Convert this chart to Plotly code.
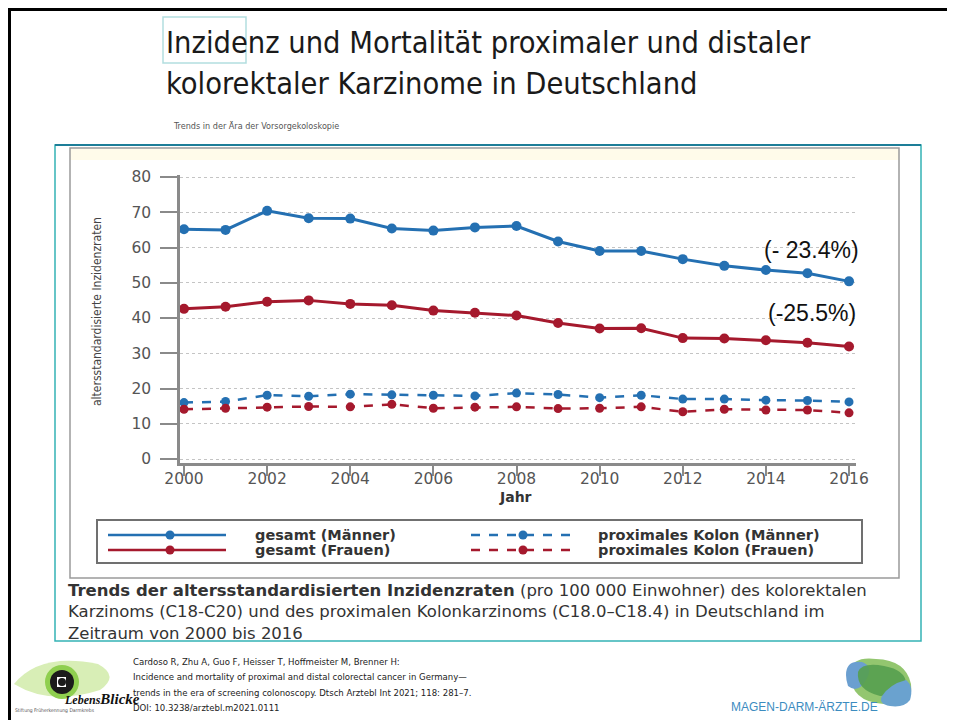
import plotly.graph_objects as go

W, H = 955, 720
OFF = 8  # page body margin in the browser

years = list(range(2000, 2017))
gesamt_maenner = [65.2, 65.0, 70.4, 68.3, 68.2, 65.4, 64.8, 65.7, 66.1, 61.7, 59.0, 59.0, 56.7, 54.8, 53.6, 52.7, 50.4]
gesamt_frauen = [42.6, 43.2, 44.6, 45.0, 44.0, 43.6, 42.1, 41.5, 40.7, 38.6, 37.0, 37.1, 34.3, 34.2, 33.7, 33.0, 31.9]
prox_maenner = [16.0, 16.3, 18.1, 17.8, 18.4, 18.2, 18.1, 17.9, 18.7, 18.3, 17.4, 18.1, 17.0, 17.0, 16.7, 16.6, 16.2]
prox_frauen = [14.1, 14.4, 14.7, 14.9, 14.8, 15.5, 14.4, 14.7, 14.8, 14.3, 14.4, 14.8, 13.4, 14.1, 13.9, 13.9, 13.1]

x_ticks = years[::2]
y_ticks = [0, 10, 20, 30, 40, 50, 60, 70, 80]

legend_labels = ["gesamt (Männer)", "gesamt (Frauen)", "proximales Kolon (Männer)", "proximales Kolon (Frauen)"]
change_labels = ["(- 23.4%)", "(-25.5%)"]

title_lines = ["Inzidenz und Mortalität proximaler und distaler", "kolorektaler Karzinome in Deutschland"]
subtitle = "Trends in der Ära der Vorsorgekoloskopie"
caption_lines = [
    "<b>Trends der altersstandardisierten Inzidenzraten</b> (pro 100 000 Einwohner) des kolorektalen",
    "Karzinoms (C18-C20) und des proximalen Kolonkarzinoms (C18.0–C18.4) in Deutschland im",
    "Zeitraum von 2000 bis 2016",
]
citation_lines = [
    "Cardoso R, Zhu A, Guo F, Heisser T, Hoffmeister M, Brenner H:",
    "Incidence and mortality of proximal and distal colorectal cancer in Germany—",
    "trends in the era of screening colonoscopy. Dtsch Arztebl Int 2021; 118: 281–7.",
    "DOI: 10.3238/arztebl.m2021.0111",
]

BLUE = "#2470b2"
RED = "#a5192d"
AXIS = "#8a8a8a"
NARROW = "DejaVu Sans Condensed, Liberation Sans Narrow, sans-serif"
WIDE = "DejaVu Sans, Verdana, sans-serif"


def px(x):
    return (x - OFF) / W


def py(y):
    return 1 - (y - OFF) / H


def rect(x0, y0, x1, y1, **kw):
    return dict(type="rect", xref="paper", yref="paper",
                x0=px(x0), x1=px(x1), y0=py(y1), y1=py(y0), **kw)


def line(x0, y0, x1, y1, **kw):
    return dict(type="line", xref="paper", yref="paper",
                x0=px(x0), x1=px(x1), y0=py(y0), y1=py(y1), **kw)


def dot(cx, cy, r, color):
    return dict(type="circle", xref="paper", yref="paper",
                x0=px(cx - r), x1=px(cx + r), y0=py(cy + r), y1=py(cy - r),
                fillcolor=color, line=dict(width=0))


def blob(points, color, opacity=1.0):
    # closed path of quadratic curves through pixel points
    d = "M %f,%f " % (px(points[0][0]), py(points[0][1]))
    for i in range(1, len(points), 2):
        c = points[i]
        e = points[(i + 1) % len(points)]
        d += "Q %f,%f %f,%f " % (px(c[0]), py(c[1]), px(e[0]), py(e[1]))
    d += "Z"
    return dict(type="path", xref="paper", yref="paper", path=d,
                fillcolor=color, opacity=opacity, line=dict(width=0))


def text(x, y, s, font, **kw):
    d = dict(xref="paper", yref="paper", x=px(x), y=py(y), text=s, showarrow=False, font=font)
    d.update(kw)
    return d


fig = go.Figure()

series = [
    (gesamt_maenner, legend_labels[0], BLUE, "solid", 3, 10),
    (gesamt_frauen, legend_labels[1], RED, "solid", 3, 10),
    (prox_maenner, legend_labels[2], BLUE, "dash", 2.5, 9),
    (prox_frauen, legend_labels[3], RED, "dash", 2.5, 9),
]
for vals, name, color, dash, width, size in series:
    fig.add_trace(go.Scatter(
        x=years, y=vals, name=name, mode="lines+markers",
        line=dict(color=color, width=width, dash=dash),
        marker=dict(color=color, size=size),
        showlegend=False,
    ))

shapes = []
# slide frame (top edge kept just inside the figure)
shapes.append(line(8, 9.5, W + OFF, 9.5, line=dict(color="black", width=3)))
shapes.append(line(9.5, 8, 9.5, H + OFF, line=dict(color="black", width=3)))
# teal figure box, grey inner frame, faint yellow band
shapes.append(rect(55, 145, 921, 641, line=dict(color="#35b3b5", width=1.5)))
shapes.append(line(55, 145, 921, 145, line=dict(color="#1d7e98", width=2)))
shapes.append(rect(70, 149, 899, 160, fillcolor="#fffbea", line=dict(width=0), layer="below"))
shapes.append(rect(70, 148, 899, 578, line=dict(color="#9a9a9a", width=1.5)))
# title highlight box
shapes.append(rect(163, 17, 246, 63, line=dict(color="#b2dedf", width=1.5)))

# legend box
shapes.append(rect(97, 520, 862, 563, line=dict(color="#707070", width=2)))
rows = [535, 550]
for i, (vals, name, color, dash, width, size) in enumerate(series):
    col = i // 2
    ry = rows[i % 2]
    if col == 0:
        shapes.append(line(108, ry, 226, ry, line=dict(color=color, width=2.5)))
        shapes.append(dot(170, ry, 4.5, color))
    else:
        shapes.append(line(471, ry, 576, ry, line=dict(color=color, width=2.5, dash="dash")))
        shapes.append(dot(523, ry, 4.5, color))

# right logo blobs
shapes.append(blob([(850, 672), (852, 656), (876, 659), (906, 660), (911, 684),
                    (914, 708), (884, 704), (850, 702), (850, 672)], "#93c66f"))
shapes.append(blob([(846, 675), (846, 660), (862, 662), (874, 666), (866, 680),
                    (858, 694), (848, 686), (846, 680), (846, 675)], "#6b9fd0"))
shapes.append(blob([(858, 672), (862, 662), (884, 666), (906, 670), (906, 684),
                    (902, 696), (880, 696), (856, 690), (858, 672)], "#569f4f", 0.9))
shapes.append(blob([(882, 696), (890, 684), (906, 680), (914, 686), (910, 700),
                    (904, 708), (890, 706), (878, 704), (882, 696)], "#6aa2cf"))

# left logo eye
shapes.append(blob([(14, 684), (40, 652), (98, 664), (120, 676), (100, 690),
                    (50, 706), (14, 684), (14, 684), (14, 684)], "#d8eeb6"))
shapes.append(dot(62, 682, 17, "#8fcf4f"))
shapes.append(dot(62, 682, 12, "#1b1b1b"))
shapes.append(rect(57, 677, 66, 687, fillcolor="white", line=dict(width=0)))
shapes.append(dot(62, 682, 4, "#1b1b1b"))

annotations = []
ann_font = dict(family=WIDE, size=14.5, color="#333333")
for i, name in enumerate(legend_labels):
    col = i // 2
    annotations.append(text(253 if col == 0 else 596, rows[i % 2], "<b>%s</b>" % name, ann_font,
                            xanchor="left", yanchor="middle"))

# change labels in data coordinates
for label, yv in zip(change_labels, [59.3, 41.4]):
    annotations.append(dict(xref="x", yref="y", x=2015.1, y=yv, text=label, showarrow=False,
                            font=dict(family="Liberation Sans, Arial", size=23, color="#111111")))

# axis titles
annotations.append(text(88, 312, "altersstandardisierte Inzidenzraten",
                        dict(family=NARROW, size=12, color="#444444"), textangle=-90))
annotations.append(text(515, 507, "<b>Jahr</b>", dict(family=WIDE, size=14, color="#333333")))

# titles
for s, y in zip(title_lines, [42, 84]):
    annotations.append(text(164, y, s, dict(family=NARROW, size=30.5, color="#1a1a1a"),
                            xanchor="left", yanchor="middle"))
annotations.append(text(171, 126, subtitle, dict(family=NARROW, size=9, color="#555555"),
                        xanchor="left", yanchor="middle"))

# caption
annotations.append(text(66, 612, "<br>".join(caption_lines), dict(family=WIDE, size=16.5, color="#333333"),
                        xanchor="left", yanchor="middle", align="left"))

# citation
for s, y in zip(citation_lines, [661, 676, 692, 707]):
    annotations.append(text(131, y, s, dict(family=NARROW, size=9.5, color="#222222"),
                            xanchor="left", yanchor="middle"))

# logo texts
annotations.append(text(62, 709, "<b><i>Lebens<span style='font-size:15px'>Blicke</span></i></b>",
                        dict(family="Liberation Serif, DejaVu Serif, serif", size=12, color="#111111")))
annotations.append(text(13, 716, "Stiftung Früherkennung Darmkrebs",
                        dict(family=NARROW, size=5, color="#555555"), xanchor="left"))
annotations.append(text(880, 716, "MAGEN-DARM-ÄRZTE.DE",
                        dict(family="Liberation Sans, Arial", size=12, color="#3c8cbf")))

fig.update_layout(
    width=W, height=H,
    margin=dict(l=0, r=0, t=0, b=0, pad=0, autoexpand=False),
    paper_bgcolor="white",
    plot_bgcolor="white",
    shapes=shapes,
    annotations=annotations,
    showlegend=False,
    xaxis=dict(
        domain=[px(180), px(856)],
        range=[1999.904, 2016.168],
        tickvals=x_ticks,
        ticks="outside", ticklen=10, tickwidth=2, tickcolor=AXIS,
        showline=True, linecolor=AXIS, linewidth=2.5,
        showgrid=False, zeroline=False, automargin=False,
        ticklabelstandoff=-10,
        tickfont=dict(family=WIDE, size=15.5, color="#555555"),
    ),
    yaxis=dict(
        domain=[py(463), py(175)],
        range=[-1.135, 80.57],
        tickvals=y_ticks,
        ticks="outside", ticklen=17, tickwidth=1.5, tickcolor=AXIS,
        showline=True, linecolor=AXIS, linewidth=2.5,
        showgrid=True, gridcolor="#c4c4c4", griddash="dot", gridwidth=1,
        zeroline=False, ticklabelstandoff=6, automargin=False,
        tickfont=dict(family=WIDE, size=15.5, color="#555555"),
    ),
)

fig.write_html("out.html")
